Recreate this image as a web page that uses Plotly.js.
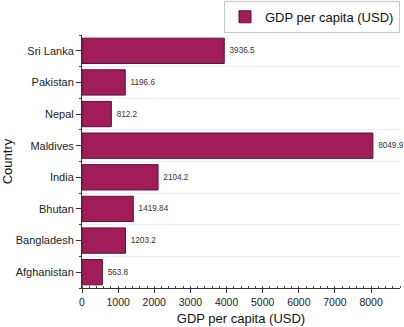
<!DOCTYPE html>
<html>
<head>
<meta charset="utf-8">
<script src="https://cdn.plot.ly/plotly-3.0.1.min.js"></script>
<style>html,body{margin:0;padding:0;background:#fff;}#chart{width:404px;height:327px;}</style>
</head>
<body>
<div id="chart"></div>
<script>
const countries = ["Afghanistan", "Bangladesh", "Bhutan", "India", "Maldives", "Nepal", "Pakistan", "Sri Lanka"];
const gdpPerCapita = [563.8, 1203.2, 1419.84, 2104.2, 8049.9, 812.2, 1196.6, 3936.5];
const valueLabels = ["563.8", "1203.2", "1419.84", "2104.2", "8049.9", "812.2", "1196.6", "3936.5"];
const xTickVals = [0, 1000, 2000, 3000, 4000, 5000, 6000, 7000, 8000];

const positions = countries.map((c, i) => i);
const font = "Liberation Sans, Arial, sans-serif";

const trace = {
  type: "bar",
  orientation: "h",
  name: "GDP per capita (USD)",
  x: gdpPerCapita,
  y: positions,
  width: 0.8,
  text: valueLabels,
  texttemplate: "\u00A0%{text}",
  textposition: "outside",
  cliponaxis: false,
  textfont: {family: font, size: 8.2, color: "#333"},
  marker: {color: "#A11D59", line: {color: "#5E0F33", width: 1}},
  hoverinfo: "skip"
};

const layout = {
  width: 404, height: 327,
  margin: {l: 82, r: 4, t: 35, b: 39, autoexpand: false},
  paper_bgcolor: "#fff", plot_bgcolor: "#fff",
  font: {family: font, color: "#222"},
  showlegend: true,
  legend: {
    xref: "paper", yref: "paper",
    x: 1, xanchor: "right", y: 1.135, yanchor: "top",
    bordercolor: "#c8c8c8", borderwidth: 1, bgcolor: "#fff",
    font: {family: font, size: 13, color: "#111"},
    itemwidth: 30
  },
  bargap: 0.2,
  xaxis: {
    range: [0, 8800],
    tickvals: xTickVals,
    ticktext: xTickVals.map(String),
    ticks: "outside", ticklen: 4, tickcolor: "#333", tickwidth: 1,
    showline: true, linecolor: "#333", linewidth: 1,
    showgrid: false, zeroline: false,
    tickfont: {family: font, size: 10.5, color: "#222"},
    minor: {dtick: 200, tick0: 0, ticks: "inside", ticklen: 2, tickcolor: "#444", showgrid: false},
    title: {text: "GDP per capita (USD)", font: {family: font, size: 13, color: "#111"}, standoff: 7}
  },
  yaxis: {
    range: [-0.5, countries.length - 0.5],
    tickmode: "array",
    tickvals: positions,
    ticktext: countries,
    ticks: "outside", ticklen: 5, tickcolor: "#333", tickwidth: 1,
    showline: true, linecolor: "#333", linewidth: 1,
    showgrid: false, zeroline: false,
    tickfont: {family: font, size: 11, color: "#222"},
    minor: {dtick: 1, tick0: 0.5, ticks: "outside", ticklen: 2, tickcolor: "#444", showgrid: true, gridcolor: "#eeeeee", gridwidth: 1},
    title: {text: "Country", font: {family: font, size: 13, color: "#111"}, standoff: 8}
  }
};

Plotly.newPlot("chart", [trace], layout, {staticPlot: true, displayModeBar: false});
</script>
</body>
</html>
